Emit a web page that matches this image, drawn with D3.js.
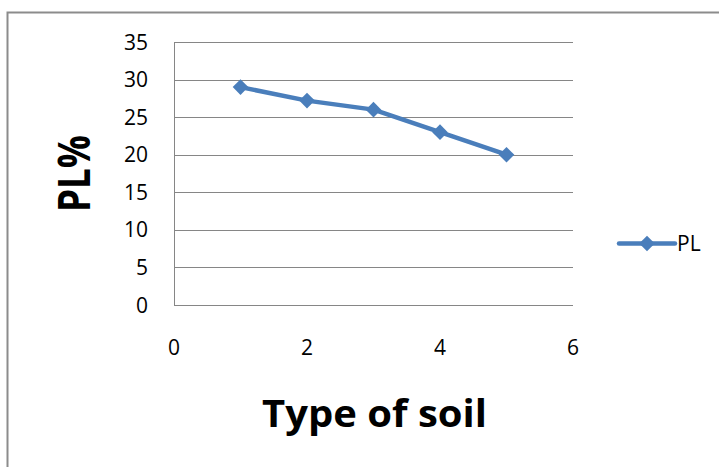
<!DOCTYPE html>
<html>
<head>
<meta charset="utf-8">
<script src="https://cdn.jsdelivr.net/npm/d3@7"></script>
<style>
  body { margin: 0; background: #fff; }
  text { font-family: "Open Sans", "Liberation Sans", sans-serif; fill: #000; }
</style>
</head>
<body>
<svg id="chart" width="719" height="467"></svg>
<script>
// data
const soilType = [1, 2, 3, 4, 5];
const plValues = [29, 27.2, 26, 23, 20];
const yTicks = [0, 5, 10, 15, 20, 25, 30, 35];
const xTicks = [0, 2, 4, 6];

const svg = d3.select("#chart");
const blue = "#4a7ebb";

// outer chart border (only left and top show in the picture)
svg.append("path")
  .attr("d", "M7.5,467V12.5H719")
  .attr("fill", "none")
  .attr("stroke", "#8c8c8c")
  .attr("stroke-width", 2);

const x = d3.scaleLinear().domain([0, 6]).range([174, 573]);
const y = d3.scaleLinear().domain([0, 35]).range([305, 42]);

// horizontal gridlines
svg.selectAll(".grid")
  .data(yTicks)
  .enter()
  .append("line")
  .attr("x1", x(0))
  .attr("x2", x(6))
  .attr("y1", d => Math.round(y(d)) + 0.5)
  .attr("y2", d => Math.round(y(d)) + 0.5)
  .attr("stroke", "#868686")
  .attr("stroke-width", 1);

// y axis line
svg.append("line")
  .attr("x1", x(0) + 0.5).attr("x2", x(0) + 0.5)
  .attr("y1", y(35)).attr("y2", y(0))
  .attr("stroke", "#868686");

// tick labels
svg.selectAll(".ylab")
  .data(yTicks)
  .enter()
  .append("text")
  .attr("x", 148)
  .attr("y", d => y(d))
  .attr("dy", "0.36em")
  .attr("text-anchor", "end")
  .attr("font-size", "21px")
  .text(d => d);

svg.selectAll(".xlab")
  .data(xTicks)
  .enter()
  .append("text")
  .attr("x", d => x(d))
  .attr("y", 347)
  .attr("dy", "0.36em")
  .attr("text-anchor", "middle")
  .attr("font-size", "21px")
  .text(d => d);

// axis titles (Calibri-ish narrow, so squeeze to the original width)
svg.append("text")
  .attr("transform", "translate(90,173.5) rotate(-90)")
  .attr("text-anchor", "middle")
  .attr("font-size", "44px")
  .attr("font-weight", "bold")
  .attr("textLength", 77)
  .attr("lengthAdjust", "spacingAndGlyphs")
  .text("PL%");

svg.append("text")
  .attr("x", 374.5)
  .attr("y", 426.5)
  .attr("text-anchor", "middle")
  .attr("font-size", "37px")
  .attr("font-weight", "bold")
  .attr("textLength", 225)
  .attr("lengthAdjust", "spacingAndGlyphs")
  .text("Type of soil");

// series line
const line = d3.line().x((d, i) => x(soilType[i])).y(d => y(d));
svg.append("path")
  .datum(plValues)
  .attr("d", line)
  .attr("fill", "none")
  .attr("stroke", blue)
  .attr("stroke-width", 4.5)
  .attr("stroke-linejoin", "round");

const diamond = d3.symbol().type(d3.symbolDiamond2).size(155);
svg.selectAll(".pt")
  .data(plValues)
  .enter()
  .append("path")
  .attr("d", diamond)
  .attr("transform", (d, i) => `translate(${x(soilType[i])},${y(d)})`)
  .attr("fill", blue);

// legend
const legend = svg.append("g").attr("transform", "translate(0,243.5)");
legend.append("line")
  .attr("x1", 619).attr("x2", 675)
  .attr("y1", 0).attr("y2", 0)
  .attr("stroke", blue)
  .attr("stroke-width", 4.5)
  .attr("stroke-linecap", "round");
legend.append("path")
  .attr("d", diamond)
  .attr("transform", "translate(647,0)")
  .attr("fill", blue);
legend.append("text")
  .attr("x", 677)
  .attr("y", 0)
  .attr("dy", "0.36em")
  .attr("font-size", "21px")
  .text("PL");
</script>
</body>
</html>
